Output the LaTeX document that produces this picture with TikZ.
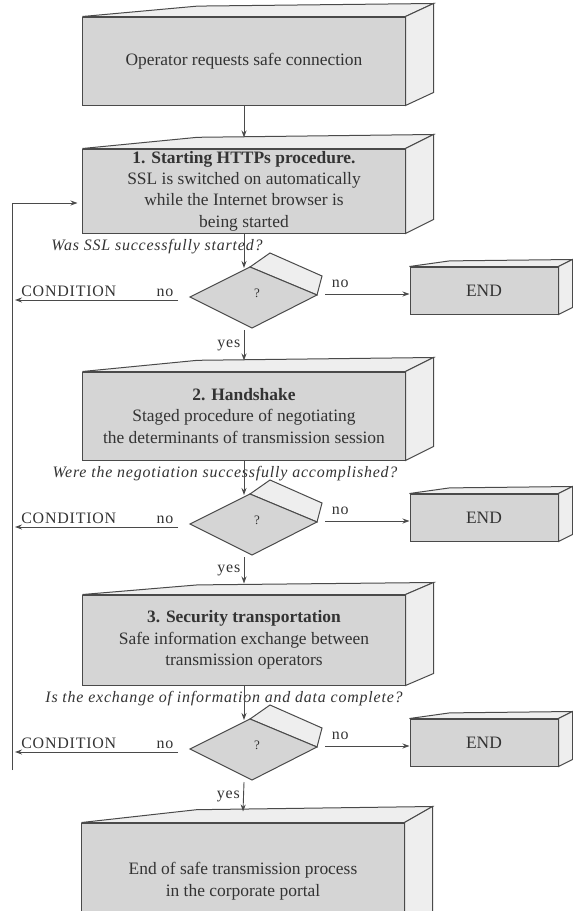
\documentclass[tikz,border=0pt]{standalone}
\usepackage{fontspec}
\setmainfont{Liberation Serif}
\newfontfamily\spaced[LetterSpace=5]{Liberation Serif}
\usetikzlibrary{calc,arrows.meta}
\definecolor{edge}{HTML}{4A4A4A}
\definecolor{ink}{HTML}{333333}
\definecolor{face}{HTML}{D5D5D5}
\definecolor{side}{HTML}{EEEEEE}
\newcommand\sidefaces[4]{%
  \filldraw[draw=edge,fill=side,line width=1bp] (#1.north west) -- ++(#4,#3*0.8) -- ($(#1.north east)+(#2,#3)$) -- (#1.north east) -- cycle;
  \filldraw[draw=edge,fill=side,line width=1bp] (#1.north east) -- ++(#2,#3) -- ($(#1.south east)+(#2,#3)$) -- (#1.south east) -- cycle;}
\begin{document}
\begin{tikzpicture}[x=1bp,y=-1bp,>={Stealth[length=7bp,width=5bp]},line width=0.9bp,
    every node/.style={text=ink},
    font=\fontsize{17.5}{21.5}\selectfont,
    front/.style={draw=edge,fill=face,line width=1bp,minimum width=322bp,align=center,inner sep=0pt},
    endbox/.style={draw=edge,fill=face,line width=1bp,minimum width=148bp,minimum height=47bp},
    ask/.style={font=\fontsize{16}{18}\selectfont\spaced\itshape},
    small/.style={font=\fontsize{16}{18}\selectfont\spaced},
    link/.style={draw=edge,->}]
  \clip (0,0) rectangle (573,911);
  \fill[white] (0,0) rectangle (573,911);

  \node[front,minimum height=88bp] (box0) at (244,61) {Operator requests safe connection};
  \sidefaces{box0}{28}{-13}{115}
  \node[front,minimum height=84bp] (box1) at (244,191) {\textbf{1. Starting HTTPs procedure.}\\SSL is switched on automatically\\while the Internet browser is\\being started};
  \sidefaces{box1}{28}{-14}{115}
  \node[front,minimum height=88bp] (box2) at (244,416) {\textbf{2. Handshake}\\Staged procedure of negotiating\\the determinants of transmission session};
  \sidefaces{box2}{28}{-14}{115}
  \node[front,minimum height=90bp] (box3) at (244,640) {\textbf{3. Security transportation}\\Safe information exchange between\\transmission operators};
  \sidefaces{box3}{28}{-12}{115}
  \node[front,minimum height=116bp] (box4) at (243,881) {End of safe transmission process\\in the corporate portal};
  \sidefaces{box4}{28}{-16}{115}

  \draw[link] (box0.south) -- ($(box1.north)+(0,-11)$);

  \foreach \i/\j/\b/\qx/\q in {1/2/233/157/{Was SSL successfully started?},
      2/3/460/225/{Were the negotiation successfully accomplished?},
      3/4/685/224/{Is the exchange of information and data complete?}} {
    \node[ask] (ask\i) at (\qx,\b+14) {\q};
    \coordinate (dia\i) at (252,\b+63);
    \coordinate (top\i) at ($(dia\i)+(-2,-28)$);
    \coordinate (bot\i) at ($(dia\i)+(0,34)$);
    \coordinate (rno\i) at ($(dia\i)+(73,-2)$);
    \coordinate (lno\i) at ($(dia\i)+(-74,4)$);
    \coordinate (cond\i) at (15,\b+67);
    \filldraw[draw=edge,fill=side,line width=1bp] ($(dia\i)+(-2,-29)$) -- ($(dia\i)+(18,-43)$) -- ($(dia\i)+(70,-20)$) -- ($(dia\i)+(65,-1)$) -- cycle;
    \filldraw[draw=edge,fill=face,line width=1bp] ($(dia\i)+(-62,1)$) -- ($(dia\i)+(-2,-29)$) -- ($(dia\i)+(65,-1)$) -- ($(dia\i)+(0,32)$) -- cycle;
    \node[font=\fontsize{13}{14}\selectfont] (mark\i) at ($(dia\i)+(5,-3)$) {?};
    \node[endbox] (end\i) at (484,\b+57.5) {END};
    \sidefaces{end\i}{14}{-7}{40}
    \draw[link] (box\i.south) -- (box\i.south |- top\i);
    \draw[link] (box\i.south |- bot\i) -- node[left,small]{yes} ($(box\j.north)+(0,-11)$);
    \draw[link] (rno\i) -- node[pos=.18,above=3bp,small]{no} (rno\i -| end\i.west);
    \draw[link] (lno\i) -- node[pos=.08,above,small]{no} node[pos=.67,above,small]{CONDITION} (cond\i);
  }

  \coordinate (loopbot) at (12,770);
  \draw[link] (loopbot) |- ($(box1.west)+(-5,12)$);
\end{tikzpicture}
\end{document}
